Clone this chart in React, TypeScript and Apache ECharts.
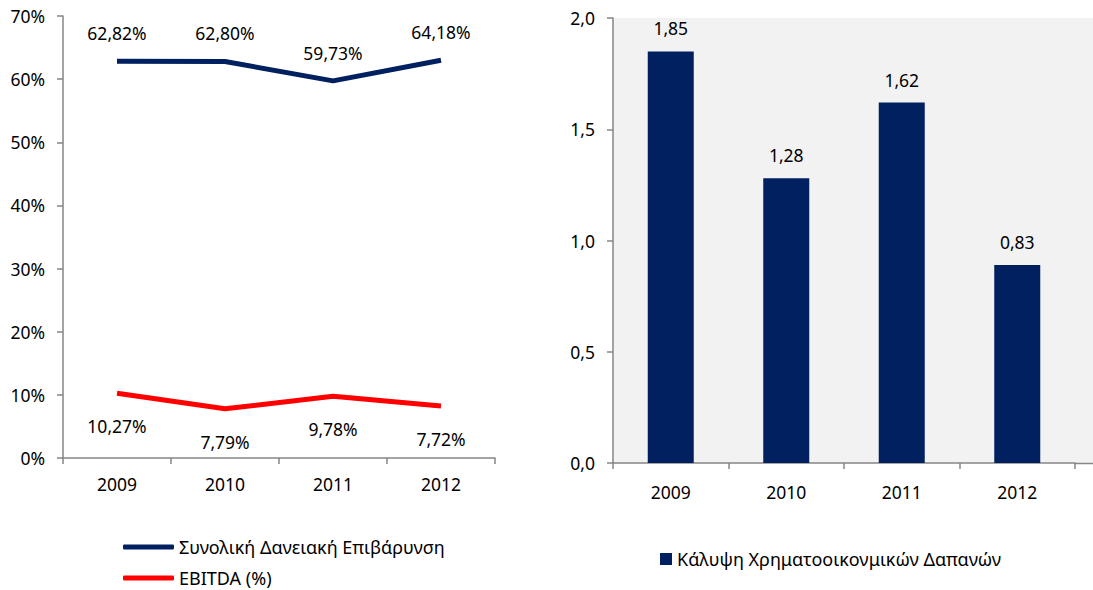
import React, { useEffect, useRef } from "react";
import * as echarts from "echarts";

const years = ["2009", "2010", "2011", "2012"];
const debtName = "Συνολική Δανειακή Επιβάρυνση";
const ebitdaName = "EBITDA (%)";
const coverName = "Κάλυψη Χρηματοοικονμικών Δαπανών";
const debtValues = [62.82, 62.8, 59.73, 63.0];
const debtLabels = ["62,82%", "62,80%", "59,73%", "64,18%"];
const ebitdaValues = [10.27, 7.79, 9.78, 8.25];
const ebitdaLabels = ["10,27%", "7,79%", "9,78%", "7,72%"];
const coverValues = [1.85, 1.28, 1.62, 0.89];
const coverLabels = ["1,85", "1,28", "1,62", "0,83"];

const FONT = "Noto Sans";
const FS = 17.5;
const AXIS = "#868686";
const NAVY = "#002060";
const RED = "#ff0000";

export default function App() {
  const ref = useRef<HTMLDivElement>(null);
  useEffect(() => {
    if (!ref.current) return;
    const chart = echarts.init(ref.current, null, { renderer: "svg" });
    const axisLabel = { color: "#000", fontFamily: FONT, fontSize: FS };
    const lineLegend = {
      left: 118,
      icon: "roundRect",
      itemWidth: 51,
      itemHeight: 5,
      itemTextGap: 4,
      textStyle: { color: "#000", fontFamily: FONT, fontSize: 18 },
    };
    chart.setOption({
      animation: false,
      textStyle: { fontFamily: FONT },
      graphic: [
        { type: "rect", shape: { x: 1075, y: 18, width: 20, height: 445 }, style: { fill: "#f2f2f2" }, z: -1 },
        { type: "line", shape: { x1: 1075, y1: 463.5, x2: 1093, y2: 463.5 }, style: { stroke: AXIS, lineWidth: 1.5 } },
      ],
      grid: [
        { left: 63, top: 16, width: 432, height: 442 },
        { left: 613, top: 18, width: 462, height: 445, show: true, backgroundColor: "#f2f2f2", borderWidth: 0 },
      ],
      legend: [
        { ...lineLegend, top: 533, data: [debtName] },
        { ...lineLegend, top: 564, data: [ebitdaName] },
        {
          left: 655,
          top: 545,
          icon: "rect",
          itemWidth: 12,
          itemHeight: 12,
          itemTextGap: 4,
          data: [coverName],
          textStyle: { color: "#000", fontFamily: FONT, fontSize: 18 },
        },
      ],
      xAxis: [
        {
          type: "category",
          gridIndex: 0,
          data: years,
          boundaryGap: true,
          axisLine: { lineStyle: { color: AXIS, width: 1.5 } },
          axisTick: { show: true, length: 6, lineStyle: { color: AXIS, width: 1.5 } },
          axisLabel: { ...axisLabel, margin: 17 },
        },
        {
          type: "category",
          gridIndex: 1,
          data: years,
          boundaryGap: true,
          axisLine: { lineStyle: { color: AXIS, width: 1.5 } },
          axisTick: {
            show: true,
            length: 6,
            interval: (i: number) => i < 4,
            lineStyle: { color: AXIS, width: 1.5 },
          },
          axisLabel: { ...axisLabel, margin: 20 },
        },
      ],
      yAxis: [
        {
          type: "value",
          gridIndex: 0,
          min: 0,
          max: 70,
          interval: 10,
          axisLine: { show: true, lineStyle: { color: AXIS, width: 1.5 } },
          axisTick: { show: true, length: 6, lineStyle: { color: AXIS, width: 1.5 } },
          splitLine: { show: false },
          axisLabel: { ...axisLabel, margin: 18, formatter: (v: number) => `${v}%` },
        },
        {
          type: "value",
          gridIndex: 1,
          min: 0,
          max: 2,
          interval: 0.5,
          axisLine: { show: true, lineStyle: { color: AXIS, width: 1.5 } },
          axisTick: { show: true, length: 6, lineStyle: { color: AXIS, width: 1.5 } },
          splitLine: { show: false },
          axisLabel: { ...axisLabel, margin: 18, formatter: (v: number) => v.toFixed(1).replace(".", ",") },
        },
      ],
      series: [
        {
          name: debtName,
          type: "line",
          xAxisIndex: 0,
          yAxisIndex: 0,
          data: debtValues,
          symbol: "circle",
          symbolSize: 0,
          lineStyle: { color: NAVY, width: 5 },
          itemStyle: { color: NAVY },
          label: {
            show: true,
            position: "top",
            distance: 19,
            color: "#000",
            fontFamily: FONT,
            fontSize: FS,
            formatter: (p: any) => debtLabels[p.dataIndex],
          },
        },
        {
          name: ebitdaName,
          type: "line",
          xAxisIndex: 0,
          yAxisIndex: 0,
          data: ebitdaValues,
          symbol: "circle",
          symbolSize: 0,
          lineStyle: { color: RED, width: 5 },
          itemStyle: { color: RED },
          label: {
            show: true,
            position: "bottom",
            distance: 24,
            color: "#000",
            fontFamily: FONT,
            fontSize: FS,
            formatter: (p: any) => ebitdaLabels[p.dataIndex],
          },
        },
        {
          name: coverName,
          type: "bar",
          xAxisIndex: 1,
          yAxisIndex: 1,
          data: coverValues,
          barWidth: 46,
          itemStyle: { color: NAVY },
          label: {
            show: true,
            position: "top",
            distance: 14,
            color: "#000",
            fontFamily: FONT,
            fontSize: FS,
            formatter: (p: any) => coverLabels[p.dataIndex],
          },
        },
      ],
    });
    return () => chart.dispose();
  }, []);
  return (
    <div
      ref={ref}
      style={{ position: "fixed", left: 0, top: 0, width: 1093, height: 590, background: "#fff" }}
    />
  );
}
